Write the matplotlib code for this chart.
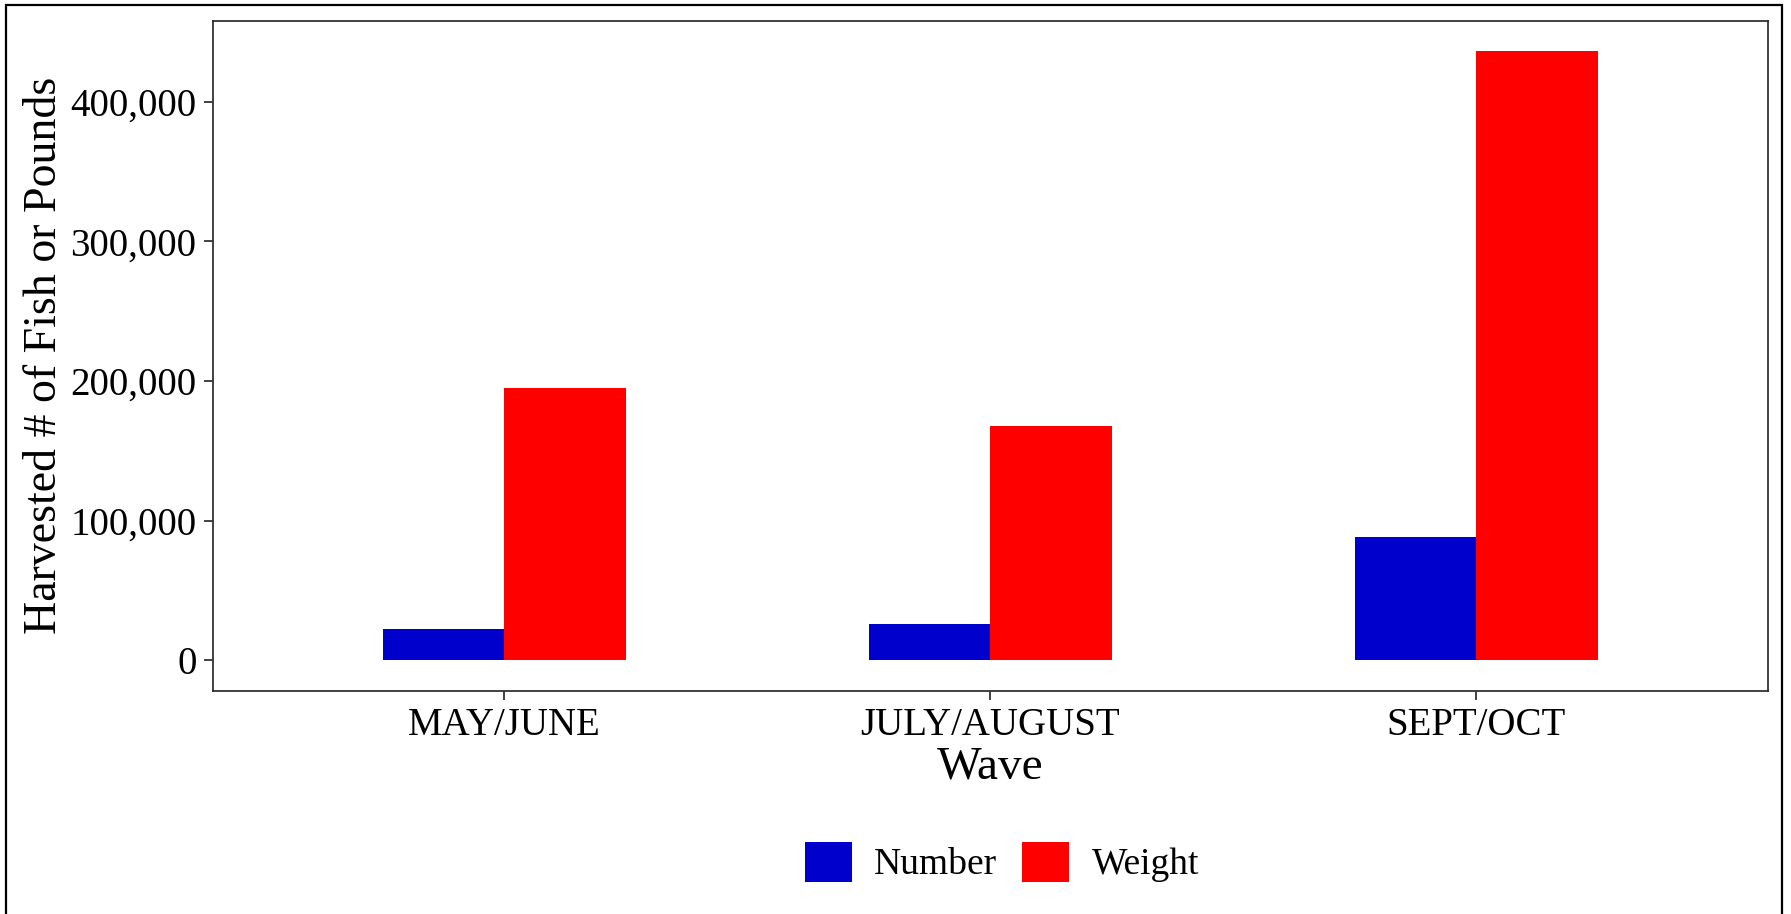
import matplotlib
matplotlib.use("Agg")
import matplotlib.pyplot as plt
import numpy as np
from matplotlib.ticker import FuncFormatter
from matplotlib.patches import Rectangle, Patch

categories = ["MAY/JUNE", "JULY/AUGUST", "SEPT/OCT"]
number_vals = [22400, 26200, 88400]
weight_vals = [195200, 167900, 436200]
series_names = ["Number", "Weight"]
colors = ["#0000CD", "#FF0000"]
y_ticks = [0, 100000, 200000, 300000, 400000]

plt.rcParams['font.family'] = ['Liberation Serif', 'DejaVu Serif']

W, H = 1791, 914
fig = plt.figure(figsize=(W / 100, H / 100), dpi=100)

# outer border
fig.patches.append(Rectangle((6 / W, -0.02), (1782 - 6) / W, (914 - 5) / H + 0.02,
                             transform=fig.transFigure, fill=False,
                             edgecolor="black", linewidth=1.6))

left, right, top, bottom = 212.5, 1768, 20.7, 690.7
ax = fig.add_axes([left / W, (H - bottom) / H, (right - left) / W, (bottom - top) / H])

x = np.arange(len(categories))
bw = 0.25
ax.bar(x - bw / 2, number_vals, width=bw, color=colors[0], label=series_names[0])
ax.bar(x + bw / 2, weight_vals, width=bw, color=colors[1], label=series_names[1])

ax.set_xlim(-0.6, len(categories) - 1 + 0.6)
ymax = max(max(number_vals), max(weight_vals))
ax.set_ylim(-0.05 * ymax, 1.05 * ymax)
ax.set_xticks(x)
ax.set_xticklabels(categories)
ax.set_yticks(y_ticks)
ax.yaxis.set_major_formatter(FuncFormatter(lambda v, p: f"{int(v):,}"))

for s in ax.spines.values():
    s.set_color("#333333")
    s.set_linewidth(1.3)
ax.tick_params(axis="both", colors="#333333", length=6.5, width=1.3, labelsize=28,
               labelcolor="black", pad=5)

ax.set_xlabel("Wave", fontsize=34, labelpad=2)
ax.set_ylabel("Harvested # of Fish or Pounds", fontsize=33, labelpad=3)

handles = [Patch(facecolor=colors[0]), Patch(facecolor=colors[1])]
fig.legend(handles, series_names, loc="center", bbox_to_anchor=(1002 / W, (H - 862) / H),
           ncol=2, frameon=False, fontsize=27, handlelength=1.25, handleheight=1.3,
           handletextpad=0.6, columnspacing=0.67)

fig.savefig("out.png", dpi=100)
